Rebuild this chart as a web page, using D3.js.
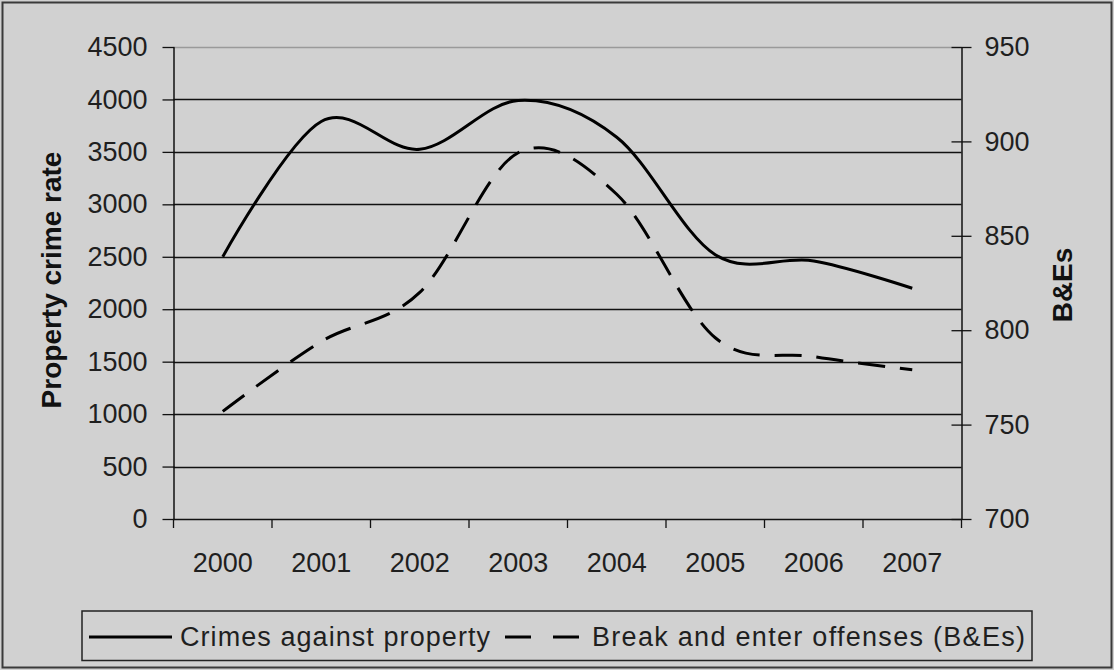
<!DOCTYPE html>
<html>
<head>
<meta charset="utf-8">
<script src="https://cdn.jsdelivr.net/npm/d3@7"></script>
<style>
  html, body { margin: 0; padding: 0; background: #d1d1d1; }
  svg { display: block; font-family: "Liberation Sans", Arial, sans-serif; }
  .tick text { fill: #1f1f1f; font-size: 27px; }
</style>
</head>
<body>
<svg id="chart" width="1114" height="670"></svg>
<script>
const years = ["2000", "2001", "2002", "2003", "2004", "2005", "2006", "2007"];
const crimesAgainstProperty = [2500, 3790, 3525, 3990, 3640, 2520, 2460, 2200];
const breakAndEnter = [757, 794, 820, 894, 872, 796, 786, 779];
const leftTicks = [0, 500, 1000, 1500, 2000, 2500, 3000, 3500, 4000, 4500];
const rightTicks = [700, 750, 800, 850, 900, 950];
const seriesNames = ["Crimes against property", "Break and enter offenses (B&Es)"];
const leftTitle = "Property crime rate";
const rightTitle = "B&Es";

const svg = d3.select("#chart");
const W = 1114, H = 670;
const plot = { left: 173.5, right: 961.5, top: 47, bottom: 519 };

// chart background & border
svg.append("rect").attr("x", 2.5).attr("y", 2.5).attr("width", W - 5).attr("height", H - 5)
  .attr("fill", "#d1d1d1").attr("stroke", "#3a3a3a").attr("stroke-width", 2);

const x = d3.scaleBand().domain(years).range([plot.left, plot.right]).padding(0);
const yL = d3.scaleLinear().domain([0, 4500]).range([plot.bottom, plot.top]);
const yR = d3.scaleLinear().domain([700, 950]).range([plot.bottom, plot.top]);
const cx = d => x(d) + x.bandwidth() / 2;
const fmt = d3.format("d");

// gridlines
svg.append("g").selectAll("line").data(leftTicks.filter(v => v > 0)).join("line")
  .attr("x1", plot.left).attr("x2", plot.right)
  .attr("y1", d => Math.round(yL(d)) + 0.5).attr("y2", d => Math.round(yL(d)) + 0.5)
  .attr("stroke", d => d === 4500 ? "#9a9a9a" : "#111")
  .attr("stroke-width", 1.3);

// left axis
const gL = svg.append("g").attr("transform", `translate(${plot.left},0)`)
  .call(d3.axisLeft(yL).tickValues(leftTicks).tickFormat(fmt).tickSize(11).tickSizeOuter(0).tickPadding(15));
gL.select(".domain").attr("stroke", "#111").attr("stroke-width", 1.5);
gL.selectAll(".tick line").attr("stroke", "#111").attr("stroke-width", 1.3).attr("x1", 1);

// right axis
const gR = svg.append("g").attr("transform", `translate(${plot.right},0)`)
  .call(d3.axisRight(yR).tickValues(rightTicks).tickFormat(fmt).tickSize(10).tickSizeOuter(0).tickPadding(13));
gR.select(".domain").attr("stroke", "#111").attr("stroke-width", 1.5);
gR.selectAll(".tick line").attr("stroke", "#111").attr("stroke-width", 1.3).attr("x1", -10);

// bottom axis
const gB = svg.append("g").attr("transform", `translate(0,${plot.bottom})`)
  .call(d3.axisBottom(x).tickSize(0).tickPadding(34));
gB.select(".domain").remove();
svg.append("line").attr("x1", plot.left).attr("x2", plot.right)
  .attr("y1", plot.bottom + 0.5).attr("y2", plot.bottom + 0.5).attr("stroke", "#111").attr("stroke-width", 1.5);
const bounds = years.map(d => x(d)).concat([x.range()[1]]);
svg.append("g").selectAll("line").data(bounds).join("line")
  .attr("x1", d => d).attr("x2", d => d).attr("y1", plot.bottom).attr("y2", plot.bottom + 9)
  .attr("stroke", "#111").attr("stroke-width", 1.3);

// axis titles
svg.append("text").attr("transform", `translate(61,280) rotate(-90)`)
  .attr("text-anchor", "middle").attr("font-size", 28).attr("font-weight", "bold").attr("fill", "#111")
  .text(leftTitle);
svg.append("text").attr("transform", `translate(1072,285) rotate(-90)`)
  .attr("text-anchor", "middle").attr("font-size", 28).attr("font-weight", "bold").attr("fill", "#111")
  .text(rightTitle);

// lines
const curve = d3.curveCardinal.tension(0);
const lineL = d3.line().x((d, i) => cx(years[i])).y(d => yL(d)).curve(curve);
const lineR = d3.line().x((d, i) => cx(years[i])).y(d => yR(d)).curve(curve);

svg.append("path").datum(breakAndEnter).attr("d", lineR)
  .attr("fill", "none").attr("stroke", "#000").attr("stroke-width", 3)
  .attr("stroke-dasharray", "27,15");
svg.append("path").datum(crimesAgainstProperty).attr("d", lineL)
  .attr("fill", "none").attr("stroke", "#000").attr("stroke-width", 3);

// legend
const lg = svg.append("g");
lg.append("rect").attr("x", 82).attr("y", 611).attr("width", 950).attr("height", 49.5)
  .attr("fill", "#d1d1d1").attr("stroke", "#222").attr("stroke-width", 1.5);
lg.append("line").attr("x1", 89).attr("x2", 172).attr("y1", 637).attr("y2", 637)
  .attr("stroke", "#000").attr("stroke-width", 3);
lg.append("text").attr("x", 180).attr("y", 646).attr("font-size", 27).attr("fill", "#1f1f1f")
  .attr("textLength", 310).attr("lengthAdjust", "spacing")
  .text(seriesNames[0]);
lg.append("line").attr("x1", 505).attr("x2", 583).attr("y1", 637).attr("y2", 637)
  .attr("stroke", "#000").attr("stroke-width", 3).attr("stroke-dasharray", "26,22");
lg.append("text").attr("x", 592).attr("y", 646).attr("font-size", 27).attr("fill", "#1f1f1f")
  .attr("textLength", 433).attr("lengthAdjust", "spacing")
  .text(seriesNames[1]);
</script>
</body>
</html>
